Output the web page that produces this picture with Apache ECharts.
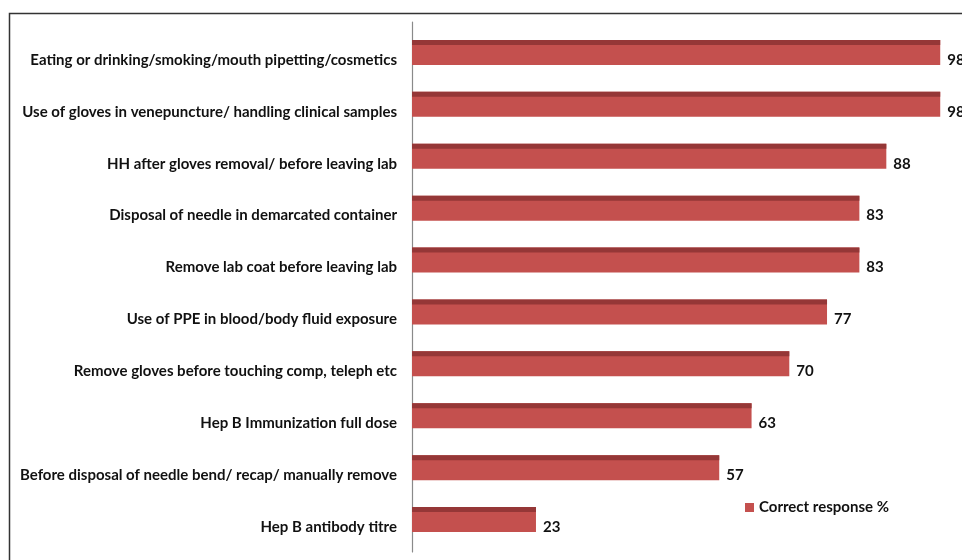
<!DOCTYPE html>
<html><head><meta charset="utf-8">
<script src="https://cdn.jsdelivr.net/npm/echarts@6/dist/echarts.min.js"></script>
<style>html,body{margin:0;padding:0;background:#fff}#c{width:962px;height:560px}</style>
</head><body><div id="c"></div>
<script>
const categories = [
  "Eating or drinking/smoking/mouth pipetting/cosmetics",
  "Use of gloves in venepuncture/ handling clinical samples",
  "HH after gloves removal/ before leaving lab",
  "Disposal of needle in demarcated container",
  "Remove lab coat before leaving lab",
  "Use of PPE in blood/body fluid exposure",
  "Remove gloves before touching comp, teleph etc",
  "Hep B Immunization full dose",
  "Before disposal of needle bend/ recap/ manually remove",
  "Hep B antibody titre"
];
const values = [98, 98, 88, 83, 83, 77, 70, 63, 57, 23];
const seriesName = "Correct response %";

const FACE = "#C4504E", TOP = "#953737", TXT = "#111";
const FONT = "Lato";

const chart = echarts.init(document.getElementById('c'), null, {renderer: 'canvas'});
chart.setOption({
  animation: false,
  backgroundColor: '#fff',
  graphic: [{
    type: 'rect', left: 7, top: 11, shape: {width: 1000, height: 600},
    style: {fill: 'none', stroke: '#333', lineWidth: 1.5}, silent: true, z: -1
  }],
  grid: [
    {left: 412, right: 11, top: 34, bottom: 7, containLabel: false},
    {left: 412, right: 11, top: 22, bottom: 8, containLabel: false}
  ],
  legend: {
    data: [{name: seriesName, icon: 'rect'}],
    left: 740, top: 495, itemWidth: 9, itemHeight: 9, itemGap: 4,
    textStyle: {fontFamily: FONT, fontWeight: 'bold', fontSize: 15, color: TXT}
  },
  xAxis: [
    {type: 'value', gridIndex: 0, min: 0, max: 100, show: false},
    {type: 'value', gridIndex: 1, min: 0, max: 100, show: false}
  ],
  yAxis: [
    {type: 'category', gridIndex: 0, data: categories, inverse: true,
     axisLine: {show: false}, axisTick: {show: false},
     axisLabel: {margin: 15, fontFamily: FONT, fontWeight: 'bold', fontSize: 15, color: TXT}},
    {type: 'category', gridIndex: 1, data: [''],
     axisLine: {show: true, lineStyle: {color: '#8a8a8a', width: 1.2}},
     axisTick: {show: false}, axisLabel: {show: false}}
  ],
  series: [{
    name: seriesName,
    type: 'custom',
    xAxisIndex: 0, yAxisIndex: 0,
    itemStyle: {color: FACE},
    encode: {x: 0, y: 1},
    data: values.map((v, i) => [v, i]),
    renderItem: function (params, api) {
      const p0 = api.coord([0, api.value(1)]);
      const p1 = api.coord([api.value(0), api.value(1)]);
      const cy = p1[1];
      const w = p1[0] - p0[0];
      return {
        type: 'group',
        children: [
          {type: 'rect', shape: {x: p0[0], y: cy - 20, width: w, height: 25}, style: {fill: FACE}},
          {type: 'rect', shape: {x: p0[0], y: cy - 20, width: w, height: 5}, style: {fill: TOP}},
          {type: 'text', style: {x: p1[0] + 7, y: cy, text: String(api.value(0)),
            fill: TXT, font: 'bold 15px ' + FONT, verticalAlign: 'middle', align: 'left'}}
        ]
      };
    }
  }]
});
</script></body></html>
